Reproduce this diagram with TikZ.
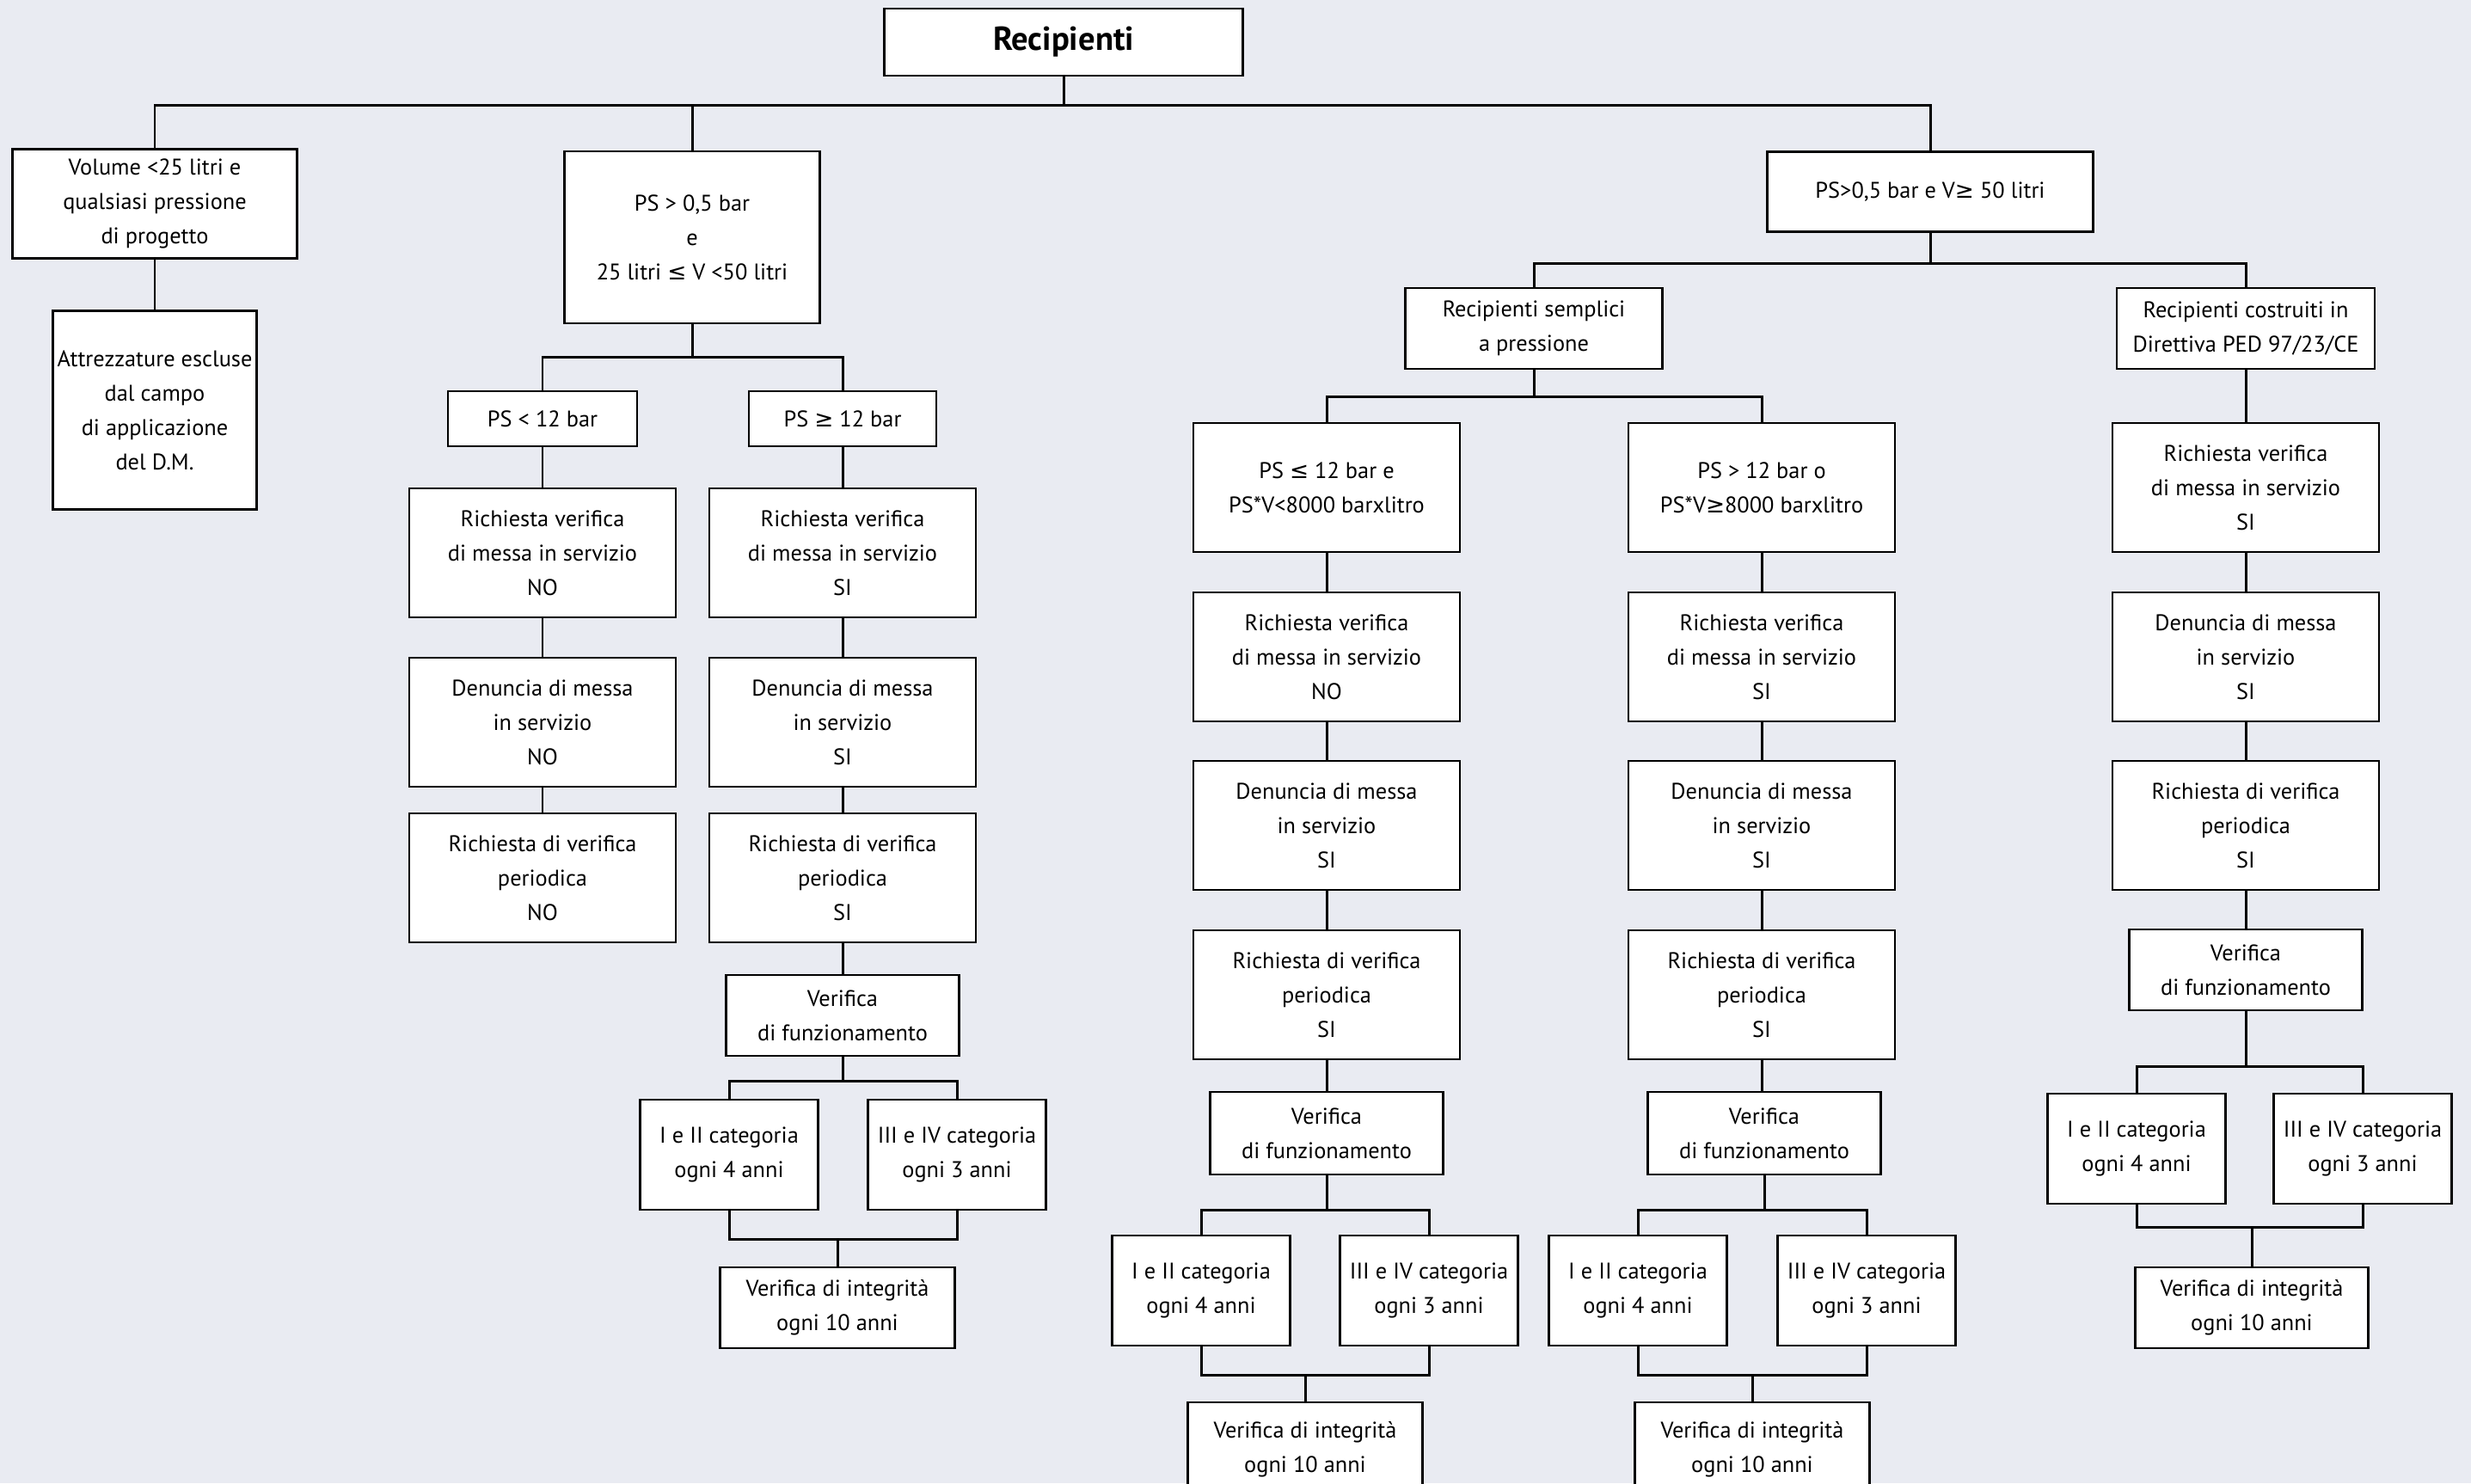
\documentclass[tikz,border=0pt]{standalone}
\usepackage{fontspec}
\setmainfont{PT Sans}
\newfontfamily\symfont{DejaVu Sans}
\newcommand{\lesym}{{\symfont\char"2264}}
\newcommand{\gesym}{{\symfont\char"2265}}
\usepackage{tikz}
\usepackage{xcolor}
\definecolor{sfondo}{HTML}{E9EBF2}
\tikzset{box/.style={black,draw=black,fill=white,rectangle,align=center,inner sep=0pt,line width=0.6pt,font=\fontsize{7.5}{11.4}\selectfont}}
\tikzset{alto/.style={box,minimum width=3.1cm,minimum height=1.5cm}}
\tikzset{basso/.style={box,minimum width=2.71cm,minimum height=0.94cm}}
\tikzset{cat/.style={box,minimum width=2.07cm,minimum height=1.28cm}}
\tikzset{link/.style={draw=black,line width=0.85pt}}

\begin{document}
\begin{tikzpicture}
    \fill[sfondo] (0,0) rectangle (28.74,-17.25);
    \useasboundingbox (0,0) rectangle (28.74,-17.25);

    \node[box,minimum width=4.17cm,minimum height=0.78cm,font=\fontsize{11}{13}\selectfont\bfseries] (rec) at (12.37,-0.49) {Recipienti};

    \node[box,minimum width=3.31cm,minimum height=1.27cm] (vol) at (1.80,-2.37) {Volume <25 litri e\\qualsiasi pressione\\di progetto};
    \node[box,minimum width=2.37cm,minimum height=2.31cm] (escl) at (1.80,-4.77) {Attrezzature escluse\\dal campo\\di applicazione\\del D.M.};

    \node[box,minimum width=2.97cm,minimum height=2.0cm] (medio) at (8.05,-2.76) {PS > 0,5 bar\\e\\25 litri \lesym\ V <50 litri};
    \node[box,minimum width=3.79cm,minimum height=0.93cm] (grande) at (22.45,-2.23) {PS>0,5 bar e V\gesym\ 50 litri};

    % ramo 25-50 litri
    \node[box,minimum width=2.2cm,minimum height=0.64cm] (psA) at (6.31,-4.87) {PS < 12 bar};
    \node[alto] (ricA) at (6.31,-6.43) {Richiesta verifica\\di messa in servizio\\NO};
    \node[alto] (denA) at (6.31,-8.40) {Denuncia di messa\\in servizio\\NO};
    \node[alto] (perA) at (6.31,-10.21) {Richiesta di verifica\\periodica\\NO};

    \node[box,minimum width=2.18cm,minimum height=0.64cm] (psB) at (9.80,-4.87) {PS \gesym\ 12 bar};
    \node[alto] (ricB) at (9.80,-6.43) {Richiesta verifica\\di messa in servizio\\SI};
    \node[alto] (denB) at (9.80,-8.40) {Denuncia di messa\\in servizio\\SI};
    \node[alto] (perB) at (9.80,-10.21) {Richiesta di verifica\\periodica\\SI};
    \node[basso] (funB) at (9.80,-11.81) {Verifica\\di funzionamento};
    \node[cat] (cat1B) at (8.48,-13.43) {I e II categoria\\ogni 4 anni};
    \node[cat] (cat2B) at (11.13,-13.43) {III e IV categoria\\ogni 3 anni};
    \node[basso,minimum width=2.73cm] (intB) at (9.74,-15.21) {Verifica di integrità\\ogni 10 anni};

    % ramo oltre 50 litri
    \node[box,minimum width=2.99cm,minimum height=0.94cm] (sempl) at (17.84,-3.82) {Recipienti semplici\\a pressione};
    \node[box,minimum width=3.0cm,minimum height=0.94cm] (costr) at (26.12,-3.82) {Recipienti costruiti in\\Direttiva PED 97/23/CE};

    \node[alto] (psC) at (15.43,-5.67) {PS \lesym\ 12 bar e\\PS*V<8000 barxlitro};
    \node[alto] (ricC) at (15.43,-7.64) {Richiesta verifica\\di messa in servizio\\NO};
    \node[alto] (denC) at (15.43,-9.60) {Denuncia di messa\\in servizio\\SI};
    \node[alto] (perC) at (15.43,-11.57) {Richiesta di verifica\\periodica\\SI};
    \node[basso,minimum height=0.96cm] (funC) at (15.43,-13.18) {Verifica\\di funzionamento};
    \node[cat] (cat1C) at (13.97,-15.01) {I e II categoria\\ogni 4 anni};
    \node[cat] (cat2C) at (16.62,-15.01) {III e IV categoria\\ogni 3 anni};
    \node[basso,minimum width=2.73cm,minimum height=1.1cm] (intC) at (15.18,-16.86) {Verifica di integrità\\ogni 10 anni};

    \node[alto] (psD) at (20.49,-5.67) {PS > 12 bar o\\PS*V\gesym 8000 barxlitro};
    \node[alto] (ricD) at (20.49,-7.64) {Richiesta verifica\\di messa in servizio\\SI};
    \node[alto] (denD) at (20.49,-9.60) {Denuncia di messa\\in servizio\\SI};
    \node[alto] (perD) at (20.49,-11.57) {Richiesta di verifica\\periodica\\SI};
    \node[basso,minimum height=0.96cm] (funD) at (20.52,-13.18) {Verifica\\di funzionamento};
    \node[cat] (cat1D) at (19.05,-15.01) {I e II categoria\\ogni 4 anni};
    \node[cat] (cat2D) at (21.71,-15.01) {III e IV categoria\\ogni 3 anni};
    \node[basso,minimum width=2.73cm,minimum height=1.1cm] (intD) at (20.38,-16.86) {Verifica di integrità\\ogni 10 anni};

    \node[alto] (ricE) at (26.12,-5.67) {Richiesta verifica\\di messa in servizio\\SI};
    \node[alto] (denE) at (26.12,-7.64) {Denuncia di messa\\in servizio\\SI};
    \node[alto] (perE) at (26.12,-9.60) {Richiesta di verifica\\periodica\\SI};
    \node[basso] (funE) at (26.12,-11.28) {Verifica\\di funzionamento};
    \node[cat] (cat1E) at (24.85,-13.36) {I e II categoria\\ogni 4 anni};
    \node[cat] (cat2E) at (27.48,-13.36) {III e IV categoria\\ogni 3 anni};
    \node[basso,minimum width=2.71cm] (intE) at (26.19,-15.21) {Verifica di integrità\\ogni 10 anni};

    \draw[link] (rec.south) -- ++(0,-0.33) -| (vol.north);
    \draw[link] (rec.south) -- ++(0,-0.33) -| (medio.north);
    \draw[link] (rec.south) -- ++(0,-0.33) -| (grande.north);

    \draw[link] (vol) -- (escl);

    \draw[link] (medio.south) -- ++(0,-0.38) -| (psA.north);
    \draw[link] (medio.south) -- ++(0,-0.38) -| (psB.north);

    \draw[link] (psA) -- (ricA);
    \draw[link] (ricA) -- (denA);
    \draw[link] (denA) -- (perA);

    \draw[link] (psB) -- (ricB);
    \draw[link] (ricB) -- (denB);
    \draw[link] (denB) -- (perB);
    \draw[link] (perB) -- (funB);
    \draw[link] (funB.south) -- ++(0,-0.28) -| (cat1B.north);
    \draw[link] (funB.south) -- ++(0,-0.28) -| (cat2B.north);
    \draw[link] (cat1B.south) -- ++(0,-0.33) -| (intB.north);
    \draw[link] (cat2B.south) -- ++(0,-0.33) -| (intB.north);

    \draw[link] (grande.south) -- ++(0,-0.36) -| (sempl.north);
    \draw[link] (grande.south) -- ++(0,-0.36) -| (costr.north);

    \draw[link] (sempl.south) -- ++(0,-0.31) -| (psC.north);
    \draw[link] (sempl.south) -- ++(0,-0.31) -| (psD.north);

    \draw[link] (psC) -- (ricC);
    \draw[link] (ricC) -- (denC);
    \draw[link] (denC) -- (perC);
    \draw[link] (perC) -- (funC);
    \draw[link] (funC.south) -- ++(0,-0.40) -| (cat1C.north);
    \draw[link] (funC.south) -- ++(0,-0.40) -| (cat2C.north);
    \draw[link] (cat1C.south) -- ++(0,-0.33) -| (intC.north);
    \draw[link] (cat2C.south) -- ++(0,-0.33) -| (intC.north);

    \draw[link] (psD) -- (ricD);
    \draw[link] (ricD) -- (denD);
    \draw[link] (denD) -- (perD);
    \draw[link] (perD.south) -- (perD.south |- funD.north);
    \draw[link] (funD.south) -- ++(0,-0.40) -| (cat1D.north);
    \draw[link] (funD.south) -- ++(0,-0.40) -| (cat2D.north);
    \draw[link] (cat1D.south) -- ++(0,-0.33) -| (intD.north);
    \draw[link] (cat2D.south) -- ++(0,-0.33) -| (intD.north);

    \draw[link] (costr) -- (ricE);
    \draw[link] (ricE) -- (denE);
    \draw[link] (denE) -- (perE);
    \draw[link] (perE) -- (funE);
    \draw[link] (funE.south) -- ++(0,-0.64) -| (cat1E.north);
    \draw[link] (funE.south) -- ++(0,-0.64) -| (cat2E.north);
    \draw[link] (cat1E.south) -- ++(0,-0.26) -| (intE.north);
    \draw[link] (cat2E.south) -- ++(0,-0.26) -| (intE.north);
\end{tikzpicture}
\end{document}
